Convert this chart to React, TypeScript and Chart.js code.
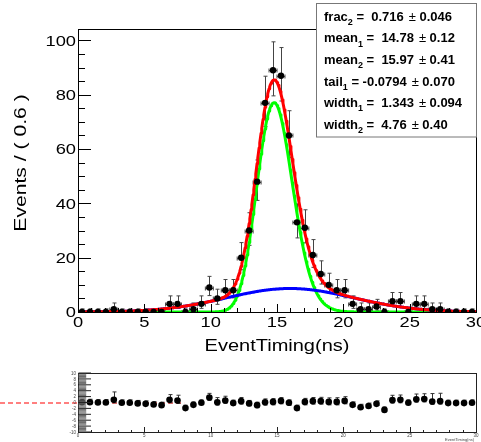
import { useEffect, useRef } from "react";
import { Chart, registerables } from "chart.js";

Chart.register(...registerables);

// Binning of EventTiming (ns): 50 bins of 0.6 ns between 0 and 30
const binCenters = [
  0.3, 0.9, 1.5, 2.1, 2.7, 3.3, 3.9, 4.5, 5.1, 5.7,
  6.3, 6.9, 7.5, 8.1, 8.7, 9.3, 9.9, 10.5, 11.1, 11.7,
  12.3, 12.9, 13.5, 14.1, 14.7, 15.3, 15.9, 16.5, 17.1, 17.7,
  18.3, 18.9, 19.5, 20.1, 20.7, 21.3, 21.9, 22.5, 23.1, 23.7,
  24.3, 24.9, 25.5, 26.1, 26.7, 27.3, 27.9, 28.5, 29.1, 29.7,
];
const BIN_WIDTH = 0.6;
const X_MIN = 0;
const X_MAX = 30;
const Y_MAX = 104.2;
const PULL_MIN = -10;
const PULL_MAX = 10;

// Events per bin
const eventCounts = [
  0, 0, 0, 0, 1, 0, 0, 0, 0, 0,
  0, 3, 3, 0, 1, 3, 9, 5, 8, 8,
  20, 30, 48, 77, 89, 87, 65, 33, 31, 21,
  14, 10, 8, 8, 3, 1, 1, 2, 0, 4,
  4, 0, 3, 3, 1, 1, 0, 0, 0, 0,
];

// Pull of each bin with respect to the fitted model
const pullValues = [
  0.1, 0.1, 0, 0, 0.9, -0.1, -0.1, -0.3, -0.45, -0.7,
  -0.9, 0.9, 0.7, -1.9, -0.8, -0.1, 1.7, 0.1, 0.7, -0.2,
  0.45, -0.3, -0.9, 0.1, 0.2, 0.55, -0.1, -1.9, 0.2, 0.45,
  0.45, 0.2, 0.2, 0.55, -0.8, -1.6, -1.2, -0.45, -2.5, 0.8,
  0.9, -0.1, 1.1, 1.2, 0.35, 0.45, -0.2, -0.2, -0.2, -0.1,
];

// Fit parameters (Novosibirsk core + Gaussian)
const paramNames = ["frac", "mean", "mean", "tail", "width", "width"];
const paramSubscripts = ["2", "1", "2", "1", "1", "2"];
const paramValues = ["0.716", "14.78", "15.97", "-0.0794", "1.343", "4.76"];
const paramErrors = ["0.046", "0.12", "0.41", "0.070", "0.094", "0.40"];

const FONT = '"Liberation Sans", Arial, Helvetica, sans-serif';

function param(name: string, sub: string): number {
  const i = paramNames.findIndex((n, j) => n === name && paramSubscripts[j] === sub);
  return parseFloat(paramValues[i]);
}

function novosibirsk(x: number, peak: number, width: number, tail: number): number {
  if (Math.abs(tail) < 1e-7) return Math.exp(-0.5 * ((x - peak) / width) ** 2);
  const arg = 1 - ((x - peak) * tail) / width;
  if (arg < 1e-7) return 0;
  const lg = Math.log(arg);
  const xi = 2.3548200450309494;
  const w0 = (2 / xi) * Math.asinh(tail * xi * 0.5);
  const w02 = w0 * w0;
  return Math.exp((-0.5 / w02) * lg * lg - w02 * 0.5);
}

function gauss(x: number, mean: number, sigma: number): number {
  return Math.exp(-0.5 * ((x - mean) / sigma) ** 2);
}

function integrate(f: (x: number) => number, a: number, b: number, n = 3000): number {
  const h = (b - a) / n;
  let s = f(a) + f(b);
  for (let i = 1; i < n; i++) s += f(a + i * h) * (i % 2 ? 4 : 2);
  return (s * h) / 3;
}

function buildCurves() {
  const frac = param("frac", "2");
  const core = (x: number) => novosibirsk(x, param("mean", "1"), param("width", "1"), param("tail", "1"));
  const wide = (x: number) => gauss(x, param("mean", "2"), param("width", "2"));
  const coreNorm = integrate(core, X_MIN, X_MAX);
  const wideNorm = integrate(wide, X_MIN, X_MAX);
  const total = eventCounts.reduce((a, b) => a + b, 0);
  const norm = total * BIN_WIDTH;
  const coreCurve: { x: number; y: number }[] = [];
  const wideCurve: { x: number; y: number }[] = [];
  const sumCurve: { x: number; y: number }[] = [];
  const steps = 600;
  for (let i = 0; i <= steps; i++) {
    const x = X_MIN + (i * (X_MAX - X_MIN)) / steps;
    const c = (norm * frac * core(x)) / coreNorm;
    const w = (norm * (1 - frac) * wide(x)) / wideNorm;
    coreCurve.push({ x, y: c });
    wideCurve.push({ x, y: w });
    sumCurve.push({ x, y: c + w });
  }
  return { coreCurve, wideCurve, sumCurve };
}

// Approximate Poisson (Garwood) interval half-widths
function errLow(n: number) {
  return n > 0 ? Math.sqrt(n - 0.25) : 0;
}
function errHigh(n: number) {
  return n > 0 ? Math.sqrt(n + 0.75) + 1 : 1.148;
}

function drawText(
  ctx: CanvasRenderingContext2D,
  text: string,
  x: number,
  y: number,
  font: string,
  align: CanvasTextAlign,
  stretch = 1,
  rotate = false,
  color = "#000"
) {
  ctx.save();
  ctx.translate(x, y);
  if (rotate) ctx.rotate(-Math.PI / 2);
  ctx.scale(stretch, 1);
  ctx.font = font;
  ctx.fillStyle = color;
  ctx.textAlign = align;
  ctx.textBaseline = "alphabetic";
  ctx.fillText(text, 0, 0);
  ctx.restore();
}

const px = (v: number) => Math.round(v) + 0.5;
const isMultiple = (v: number, m: number) => Math.abs(v / m - Math.round(v / m)) < 1e-6;

function drawVerticalBar(ctx: CanvasRenderingContext2D, x: number, y1: number, y2: number, cap: number) {
  ctx.beginPath();
  ctx.moveTo(x, y1);
  ctx.lineTo(x, y2);
  ctx.moveTo(x - cap, y1);
  ctx.lineTo(x + cap, y1);
  ctx.moveTo(x - cap, y2);
  ctx.lineTo(x + cap, y2);
  ctx.stroke();
}

const mainDecor = {
  id: "mainDecor",
  beforeDatasetsDraw(chart: any) {
    const { ctx, chartArea: a, scales } = chart;
    const xs = scales.x;
    const ys = scales.y;
    ctx.save();
    ctx.beginPath();
    ctx.rect(a.left, a.top, a.right - a.left, a.bottom - a.top);
    ctx.clip();
    ctx.strokeStyle = "#444";
    ctx.lineWidth = 1;
    binCenters.forEach((c, i) => {
      const n = eventCounts[i];
      const x = px(xs.getPixelForValue(c));
      const y = ys.getPixelForValue(n);
      drawVerticalBar(ctx, x, ys.getPixelForValue(n - errLow(n)), ys.getPixelForValue(n + errHigh(n)), 2);
      const xl = xs.getPixelForValue(c - BIN_WIDTH / 2);
      const xr = xs.getPixelForValue(c + BIN_WIDTH / 2);
      const yy = px(y);
      ctx.beginPath();
      ctx.moveTo(xl, yy);
      ctx.lineTo(xr, yy);
      ctx.moveTo(xl, yy - 2);
      ctx.lineTo(xl, yy + 2);
      ctx.moveTo(xr, yy - 2);
      ctx.lineTo(xr, yy + 2);
      ctx.stroke();
    });
    ctx.restore();
  },
  afterDraw(chart: any) {
    const { ctx, chartArea: a, scales } = chart;
    const xs = scales.x;
    const ys = scales.y;
    ctx.save();
    ctx.strokeStyle = "#000";
    ctx.lineWidth = 1;
    // frame
    ctx.strokeRect(px(a.left), px(a.top), Math.round(a.right - a.left), Math.round(a.bottom - a.top));
    // y ticks
    ys.ticks.forEach((t: any) => {
      const v = Math.round(t.value * 1000) / 1000;
      if (!isMultiple(v, 5) || v > 100) return;
      const y = px(ys.getPixelForValue(v));
      const major = isMultiple(v, 20);
      ctx.beginPath();
      ctx.moveTo(px(a.left), y);
      ctx.lineTo(px(a.left) + (major ? 12.5 : 6.5), y);
      ctx.stroke();
      if (major) drawText(ctx, String(v), 76, ys.getPixelForValue(v) + 5.3, `15px ${FONT}`, "right", 1.22);
    });
    // x ticks
    xs.ticks.forEach((t: any) => {
      const v = Math.round(t.value * 1000) / 1000;
      const x = px(xs.getPixelForValue(v));
      const major = isMultiple(v, 5);
      ctx.beginPath();
      ctx.moveTo(x, px(a.bottom));
      ctx.lineTo(x, px(a.bottom) - (major ? 8.5 : 4.5));
      ctx.stroke();
      if (major) drawText(ctx, String(v), xs.getPixelForValue(v), 327.3, `15px ${FONT}`, "center", 1.22);
    });
    // axis titles
    drawText(ctx, "EventTiming(ns)", (a.left + a.right) / 2, 351, `16px ${FONT}`, "center", 1.25);
    drawText(ctx, `Events / ( ${BIN_WIDTH} )`, 25.5, 163, `16px ${FONT}`, "center", 1.32, true);

    // parameter box
    const bx = 316.5;
    const by = 3.5;
    const bw = 160;
    const bh = 133.5;
    ctx.fillStyle = "#fff";
    ctx.fillRect(bx, by, bw, bh);
    ctx.strokeStyle = "#777";
    ctx.strokeRect(bx, by, bw, bh);
    const bold = `bold 13px ${FONT}`;
    const subFont = `bold 9px ${FONT}`;
    paramNames.forEach((name, i) => {
      const base = 20.7 + i * 21.6;
      let x = 324;
      ctx.fillStyle = "#000";
      ctx.textAlign = "left";
      ctx.textBaseline = "alphabetic";
      ctx.font = bold;
      ctx.fillText(name, x, base);
      x += ctx.measureText(name).width;
      ctx.font = subFont;
      ctx.fillText(paramSubscripts[i], x, base + 4.3);
      x += ctx.measureText(paramSubscripts[i]).width;
      ctx.font = bold;
      const val = paramValues[i];
      const head = ` = ${val.startsWith("-") ? "" : " "}${val}`;
      ctx.fillText(head, x, base);
      x += ctx.measureText(head).width + 5;
      ctx.font = `13px ${FONT}`;
      ctx.fillText("\u00b1", x, base);
      x += ctx.measureText("\u00b1").width + 3.5;
      ctx.font = bold;
      ctx.fillText(paramErrors[i], x, base);
    });
    ctx.restore();
  },
};

const pullDecor = {
  id: "pullDecor",
  beforeDatasetsDraw(chart: any) {
    const { ctx, chartArea: a, scales } = chart;
    const xs = scales.x;
    const ys = scales.y;
    ctx.save();
    // reference line at zero pull
    ctx.strokeStyle = "#ff0000";
    ctx.lineWidth = 1.2;
    ctx.setLineDash([5, 3]);
    ctx.beginPath();
    const y0 = Math.round(ys.getPixelForValue(0));
    ctx.moveTo(0, y0);
    ctx.lineTo(xs.getPixelForValue(8), y0);
    ctx.stroke();
    ctx.setLineDash([]);
    ctx.lineWidth = 1;
    // pull error bars
    ctx.beginPath();
    ctx.rect(a.left, a.top, a.right - a.left, a.bottom - a.top);
    ctx.clip();
    ctx.strokeStyle = "#333";
    binCenters.forEach((c, i) => {
      const n = eventCounts[i];
      const p = pullValues[i];
      const lo = errLow(n);
      const hi = errHigh(n);
      let up = 1;
      let down = 1;
      if (lo === 0) {
        down = 0;
      } else if (p >= 0) {
        up = hi / lo;
      } else {
        down = lo / hi;
      }
      drawVerticalBar(ctx, px(xs.getPixelForValue(c)), ys.getPixelForValue(p - down), ys.getPixelForValue(p + up), 2);
    });
    ctx.restore();
  },
  afterDraw(chart: any) {
    const { ctx, chartArea: a, scales } = chart;
    const xs = scales.x;
    const ys = scales.y;
    ctx.save();
    ctx.strokeStyle = "#222";
    ctx.lineWidth = 1;
    ctx.strokeRect(px(a.left), px(a.top), Math.round(a.right - a.left), Math.round(a.bottom - a.top));
    const tiny = `4.5px ${FONT}`;
    ys.ticks.forEach((t: any) => {
      const v = Math.round(t.value * 100) / 100;
      const y = ys.getPixelForValue(v);
      const major = isMultiple(v, 2);
      ctx.strokeStyle = major ? "#222" : "#666";
      ctx.beginPath();
      ctx.moveTo(px(a.left), y);
      ctx.lineTo(px(a.left) + (major ? 12.5 : 7.7), y);
      ctx.stroke();
      if (major) drawText(ctx, String(v), 76, y + 1.6, tiny, "right", 1, false, "#444");
    });
    ctx.strokeStyle = "#222";
    xs.ticks.forEach((t: any) => {
      const v = Math.round(t.value * 1000) / 1000;
      const x = px(xs.getPixelForValue(v));
      const major = isMultiple(v, 5);
      ctx.beginPath();
      ctx.moveTo(x, px(a.bottom));
      ctx.lineTo(x, px(a.bottom) - (major ? 5.5 : 2.5));
      ctx.stroke();
      if (major) drawText(ctx, String(v), xs.getPixelForValue(v), 72, tiny, "center", 1, false, "#444");
    });
    drawText(ctx, "EventTiming(ns)", 474, 76, `4px ${FONT}`, "right", 1, false, "#444");
    ctx.restore();
  },
};

export default function App() {
  const mainRef = useRef<HTMLCanvasElement>(null);
  const pullRef = useRef<HTMLCanvasElement>(null);

  useEffect(() => {
    const { coreCurve, wideCurve, sumCurve } = buildCurves();
    const curve = (data: { x: number; y: number }[], color: string) => ({
      type: "line" as const,
      data,
      borderColor: color,
      borderWidth: 3,
      pointRadius: 0,
      tension: 0,
      fill: false,
      borderJoinStyle: "round" as const,
    });

    const main = new Chart(mainRef.current!, {
      type: "scatter",
      data: {
        datasets: [
          {
            data: binCenters.map((x, i) => ({ x, y: eventCounts[i] })),
            pointRadius: 3.2,
            pointBackgroundColor: "#000",
            pointBorderWidth: 0,
            showLine: false,
          } as any,
          curve(sumCurve, "#ff0000"),
          curve(wideCurve, "#0000ff"),
          curve(coreCurve, "#00ff00"),
        ],
      },
      options: {
        responsive: false,
        animation: false,
        devicePixelRatio: 1,
        events: [],
        layout: { padding: { top: 29, right: 5, left: 0, bottom: 0 } },
        plugins: { legend: { display: false }, tooltip: { enabled: false } },
        scales: {
          x: {
            type: "linear",
            min: X_MIN,
            max: X_MAX,
            ticks: { stepSize: 1, display: false, includeBounds: false },
            grid: { display: false },
            border: { display: false },
            afterFit: (s: any) => {
              s.height = 53;
            },
          },
          y: {
            type: "linear",
            min: 0,
            max: Y_MAX,
            ticks: { stepSize: 5, display: false, includeBounds: false },
            grid: { display: false },
            border: { display: false },
            afterFit: (s: any) => {
              s.width = 78;
            },
          },
        },
      } as any,
      plugins: [mainDecor],
    });

    const pull = new Chart(pullRef.current!, {
      type: "scatter",
      data: {
        datasets: [
          {
            data: binCenters.map((x, i) => ({ x, y: pullValues[i] })),
            pointRadius: 3.3,
            pointBackgroundColor: "#000",
            pointBorderWidth: 0,
          },
        ],
      },
      options: {
        responsive: false,
        animation: false,
        devicePixelRatio: 1,
        events: [],
        layout: { padding: { top: 8, right: 5, left: 0, bottom: 0 } },
        plugins: { legend: { display: false }, tooltip: { enabled: false } },
        scales: {
          x: {
            type: "linear",
            min: X_MIN,
            max: X_MAX,
            ticks: { stepSize: 1, display: false, includeBounds: false },
            grid: { display: false },
            border: { display: false },
            afterFit: (s: any) => {
              s.height = 10;
            },
          },
          y: {
            type: "linear",
            min: PULL_MIN,
            max: PULL_MAX,
            ticks: { stepSize: 0.4, display: false, includeBounds: false },
            grid: { display: false },
            border: { display: false },
            afterFit: (s: any) => {
              s.width = 78;
            },
          },
        },
      } as any,
      plugins: [pullDecor],
    });

    return () => {
      main.destroy();
      pull.destroy();
    };
  }, []);

  return (
    <div style={{ position: "fixed", left: 0, top: 0, width: 481, height: 442, background: "#fff" }}>
      <canvas ref={mainRef} width={481} height={365} style={{ position: "absolute", left: 0, top: 0 }} />
      <canvas ref={pullRef} width={481} height={77} style={{ position: "absolute", left: 0, top: 365 }} />
    </div>
  );
}
